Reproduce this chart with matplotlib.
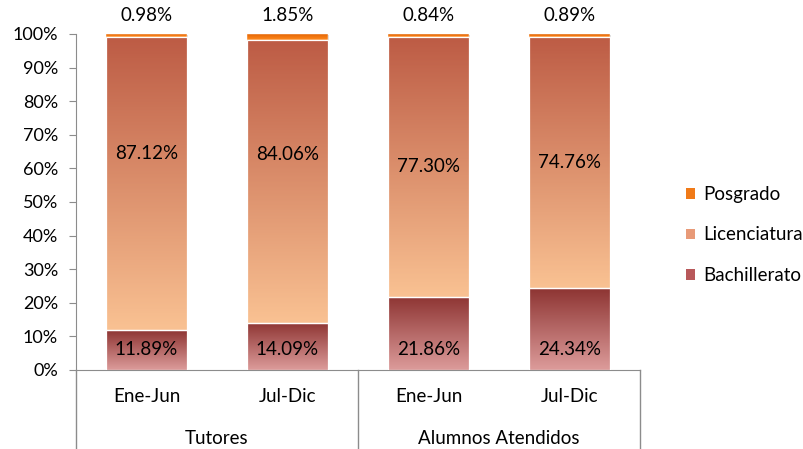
import numpy as np
import matplotlib
matplotlib.use("Agg")
import matplotlib.pyplot as plt
from matplotlib.colors import LinearSegmentedColormap
from matplotlib.patches import Rectangle, Patch
import matplotlib.transforms as mtransforms

plt.rcParams['font.family'] = ['Lato', 'DejaVu Sans']

categories = ['Ene-Jun', 'Jul-Dic', 'Ene-Jun', 'Jul-Dic']
groups = ['Tutores', 'Alumnos Atendidos']
bachillerato = [11.89, 14.09, 21.86, 24.34]
licenciatura = [87.12, 84.06, 77.30, 74.76]
posgrado = [0.98, 1.85, 0.84, 0.89]

# gradient colours (top, bottom)
grad = {
    'Bachillerato': ('#8e3533', '#dc9b9a'),
    'Licenciatura': ('#bd5c45', '#f9c192'),
    'Posgrado': ('#e06000', '#ff8a20'),
}

fig = plt.figure(figsize=(8.04, 4.49), dpi=100)
ax = fig.add_axes([76/804, 79/449, 564/804, 336/449])

x = np.arange(len(categories))
width = 0.57
fs = 13.5


def grad_bar(ax, xc, bottom, height, name, lw=0.9):
    top_c, bot_c = grad[name]
    cmap = LinearSegmentedColormap.from_list(name, [bot_c, top_c])
    rect = Rectangle((xc - width/2, bottom), width, height, facecolor='none',
                     edgecolor='white', linewidth=lw, zorder=3)
    ax.add_patch(rect)
    g = np.linspace(0, 1, 100).reshape(-1, 1)
    im = ax.imshow(g, cmap=cmap, origin='lower', aspect='auto',
                   extent=[xc - width/2, xc + width/2, bottom, bottom + height],
                   zorder=2)
    im.set_clip_path(rect)
    # soft shadow
    sh = Rectangle((xc - width/2 + 0.012, bottom - 0.4), width, height,
                   facecolor='#d9d9d9', edgecolor='none', zorder=1)
    ax.add_patch(sh)


for i in x:
    b = bachillerato[i]
    l = licenciatura[i]
    p = posgrado[i]
    grad_bar(ax, i, 0, b, 'Bachillerato')
    grad_bar(ax, i, b, l, 'Licenciatura')
    grad_bar(ax, i, b + l, p, 'Posgrado', lw=0.3)

# data labels
lic_offset = [9, 8, 0, 0]
for i in x:
    ax.text(i, 6, f'{bachillerato[i]:.2f}%', ha='center', va='center', fontsize=fs, zorder=5)
    ax.text(i, bachillerato[i] + licenciatura[i]/2 + lic_offset[i], f'{licenciatura[i]:.2f}%',
            ha='center', va='center', fontsize=fs, zorder=5)
    ax.text(i, 105.6, f'{posgrado[i]:.2f}%', ha='center', va='center', fontsize=fs,
            zorder=5, clip_on=False)

ax.set_xlim(-0.5, 3.5)
ax.set_ylim(0, 100)
ax.set_yticks(np.arange(0, 101, 10))
ax.set_yticklabels([f'{v}%' for v in range(0, 101, 10)], fontsize=13)
ax.set_xticks([])
for s in ['top', 'right']:
    ax.spines[s].set_visible(False)
ax.spines['left'].set_color('#8c8c8c')
ax.spines['bottom'].set_color('#8c8c8c')
ax.tick_params(axis='y', direction='out', length=5, color='#8c8c8c', pad=8)

# category and group labels below axis
trans = mtransforms.blended_transform_factory(ax.transData, fig.transFigure)
for i, c in enumerate(categories):
    ax.text(i, 1 - 397/449, c, transform=trans, ha='center', va='center', fontsize=fs)
for gi, gname in enumerate(groups):
    ax.text(2*gi + 0.5, 1 - 438/449, gname, transform=trans, ha='center', va='center', fontsize=fs)
for xv in [-0.5, 1.5, 3.5]:
    ax.plot([xv, xv], [0, -25], color='#8c8c8c', lw=1, clip_on=False, zorder=1)

handles = [Patch(facecolor='#f07a18', edgecolor='none'),
           Patch(facecolor='#e89a78', edgecolor='none'),
           Patch(facecolor='#b8585a', edgecolor='none')]
fig.legend(handles, ['Posgrado', 'Licenciatura', 'Bachillerato'],
           loc='center left', bbox_to_anchor=(686/804, 1 - 235/449), frameon=False,
           handlelength=0.5, handleheight=0.5, handletextpad=0.4, labelspacing=1.25,
           fontsize=fs, borderaxespad=0, borderpad=0)

fig.savefig('out.png', dpi=100)
